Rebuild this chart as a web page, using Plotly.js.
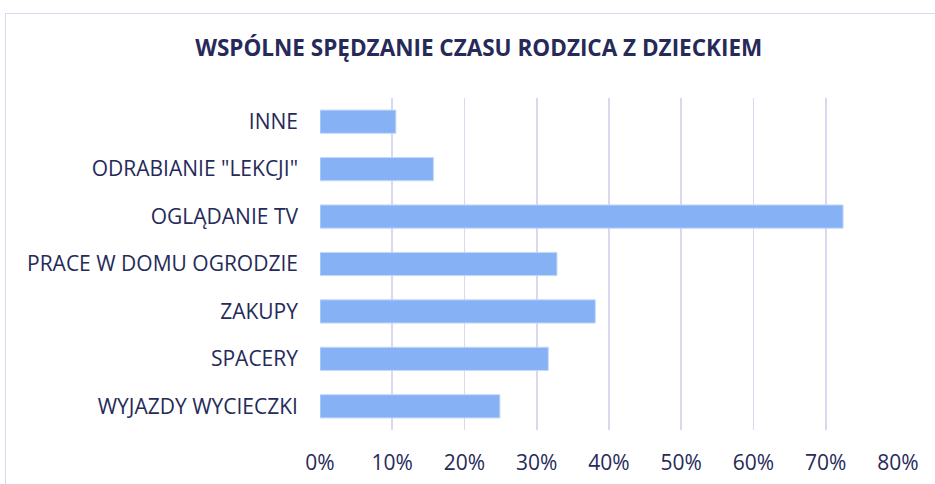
<!DOCTYPE html>
<html><head><meta charset="utf-8">
<script src="https://cdn.plot.ly/plotly-3.0.1.min.js"></script>
<style>
html,body{margin:0;padding:0;background:#fff;overflow:hidden;}
#frame{position:absolute;left:5px;top:13px;width:1000px;height:600px;border:1px solid #d9d9ee;box-sizing:border-box;}
#chart{position:absolute;left:0;top:0;width:935px;height:484px;}
</style></head>
<body>
<div id="frame"></div>
<div id="chart"></div>
<script>
const categories = ['INNE', 'ODRABIANIE "LEKCJI"', 'OGLĄDANIE TV', 'PRACE W DOMU OGRODZIE', 'ZAKUPY', 'SPACERY', 'WYJAZDY WYCIECZKI'];
const values = [0.105, 0.157, 0.724, 0.328, 0.381, 0.316, 0.249];
const tickVals = [0, 0.1, 0.2, 0.3, 0.4, 0.5, 0.6, 0.7, 0.8];
const tickText = ['0%', '10%', '20%', '30%', '40%', '50%', '60%', '70%', '80%'];

const textColor = '#262a59';
const fontFam = '"Open Sans", sans-serif';

Plotly.newPlot('chart', [{
  type: 'bar',
  orientation: 'h',
  y: categories,
  x: values,
  marker: {color: '#86b2f5', line: {color: '#c4d9fa', width: 1}},
  width: 0.49,
  hoverinfo: 'none'
}], {
  width: 935, height: 484,
  paper_bgcolor: 'rgba(0,0,0,0)',
  plot_bgcolor: 'rgba(0,0,0,0)',
  margin: {l: 320, r: 37, t: 98, b: 54},
  showlegend: false,
  title: {
    text: '<b>WSPÓLNE SPĘDZANIE CZASU RODZICA Z DZIECKIEM</b>',
    font: {family: fontFam, size: 22.5, color: textColor},
    x: 0.512, xanchor: 'center', y: 0.9, yanchor: 'middle', xref: 'container', yref: 'container'
  },
  xaxis: {
    range: [0, 0.8],
    tickvals: tickVals, ticktext: tickText,
    showgrid: true, gridcolor: '#d8d8ef', gridwidth: 1.6,
    zeroline: false, showline: false, ticks: '',
    ticklabelstandoff: 18,
    tickfont: {family: fontFam, size: 21, color: textColor}
  },
  yaxis: {
    autorange: 'reversed',
    type: 'category',
    showgrid: false, zeroline: false, showline: false, ticks: '',
    ticklabelstandoff: 21,
    tickfont: {family: fontFam, size: 21, color: textColor}
  }
}, {staticPlot: true});
</script>
</body></html>
